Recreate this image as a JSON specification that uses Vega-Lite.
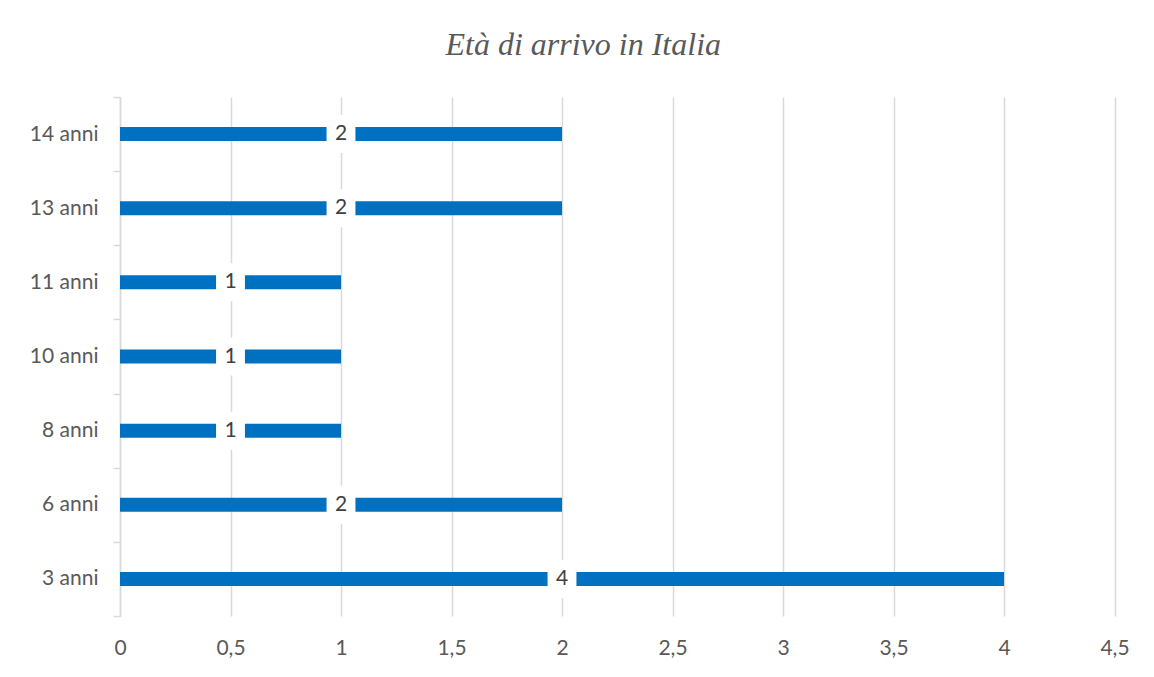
{
  "$schema": "https://vega.github.io/schema/vega-lite/v6.json",
  "width": 994.5,
  "height": 519,
  "autosize": {"type": "none"},
  "padding": {"left": 120, "top": 97, "right": 39.5, "bottom": 61},
  "background": "white",
  "config": {"view": {"stroke": null}},
  "title": {
    "text": "Età di arrivo in Italia",
    "font": "Liberation Serif",
    "fontStyle": "italic",
    "fontWeight": "normal",
    "fontSize": 32,
    "color": "#595959",
    "anchor": "middle",
    "dx": -34,
    "offset": 24
  },
  "data": {
    "values": [
      {"eta": "14 anni", "n": 2},
      {"eta": "13 anni", "n": 2},
      {"eta": "11 anni", "n": 1},
      {"eta": "10 anni", "n": 1},
      {"eta": "8 anni", "n": 1},
      {"eta": "6 anni", "n": 2},
      {"eta": "3 anni", "n": 4}
    ]
  },
  "encoding": {
    "y": {
      "field": "eta",
      "type": "nominal",
      "sort": ["14 anni", "13 anni", "11 anni", "10 anni", "8 anni", "6 anni", "3 anni"],
      "scale": {"paddingInner": 0, "paddingOuter": 0},
      "axis": {
        "title": null,
        "tickBand": "extent",
        "tickSize": 7,
        "tickColor": "#d9d9d9",
        "tickWidth": 1.5,
        "domainColor": "#d9d9d9",
        "domainWidth": 1.5,
        "labelFont": "Lato",
        "labelFontSize": 21,
        "labelColor": "#595959",
        "labelPadding": 15,
        "grid": false
      }
    }
  },
  "layer": [
    {
      "mark": {"type": "bar", "size": 14, "color": "#0070C0"},
      "encoding": {
        "x": {
          "field": "n",
          "type": "quantitative",
          "scale": {"domain": [0, 4.5], "nice": false},
          "axis": {
            "title": null,
            "values": [0, 0.5, 1, 1.5, 2, 2.5, 3, 3.5, 4, 4.5],
            "labelExpr": "replace(format(datum.value, '.1~f'), '.', ',')",
            "labelFlush": false,
            "domain": false,
            "ticks": false,
            "grid": true,
            "gridColor": "#d9d9d9",
            "gridWidth": 1.5,
            "labelFont": "Lato",
            "labelFontSize": 21,
            "labelColor": "#595959",
            "labelPadding": 21
          }
        }
      }
    },
    {
      "encoding": {
        "x": {
          "field": "n",
          "type": "quantitative",
          "scale": {"domain": [0, 9], "nice": false},
          "axis": null
        }
      },
      "layer": [
        {
          "mark": {"type": "point", "shape": "M-0.76,-1L0.76,-1L0.76,1L-0.76,1Z", "size": 1444, "filled": true, "color": "white", "opacity": 1}
        },
        {
          "mark": {"type": "text", "font": "Lato", "fontSize": 21, "color": "#404040", "baseline": "middle", "align": "center"},
          "encoding": {
            "text": {"field": "n", "type": "quantitative"}
          }
        }
      ]
    }
  ],
  "resolve": {"scale": {"x": "independent"}}
}
